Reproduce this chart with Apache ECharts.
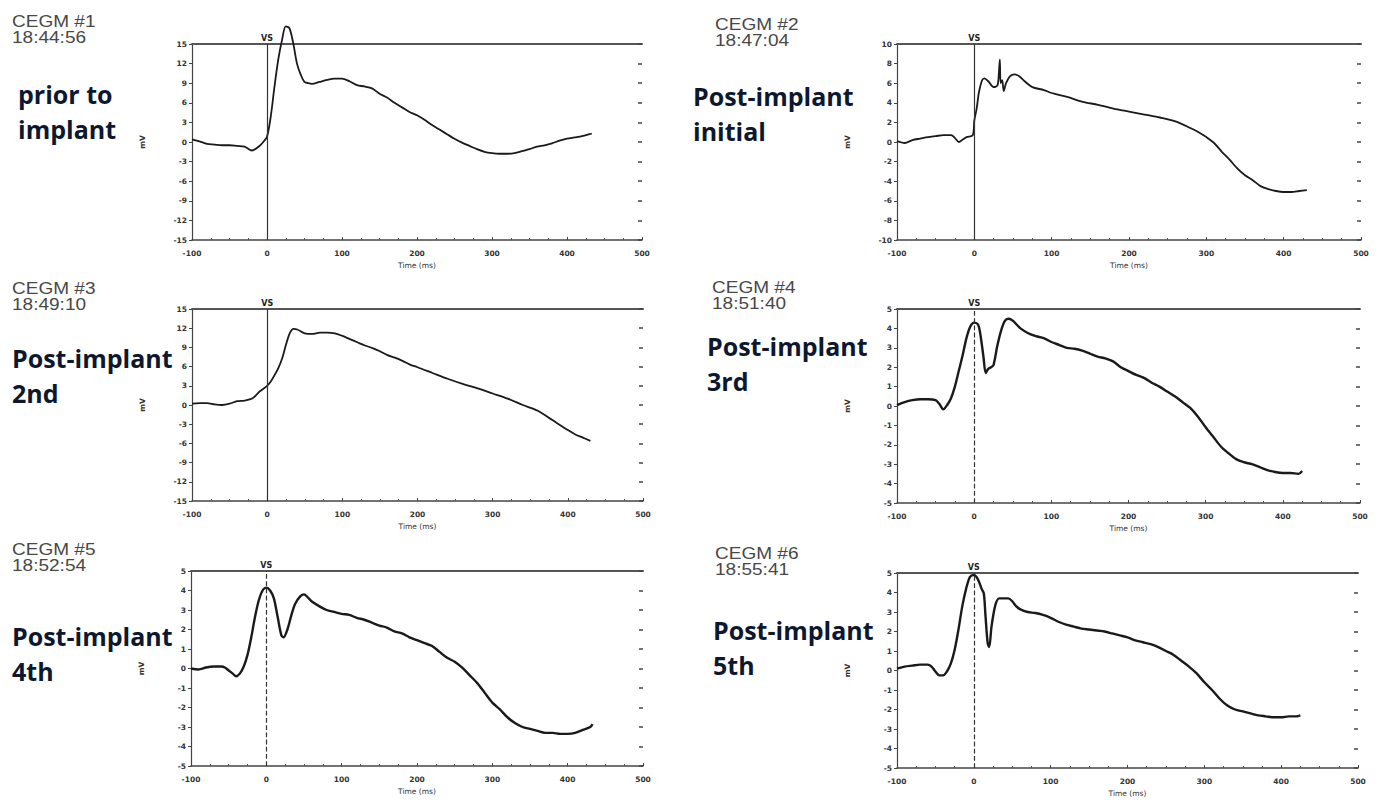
<!DOCTYPE html>
<html>
<head>
<meta charset="utf-8">
<script src="https://cdn.jsdelivr.net/npm/echarts@6/dist/echarts.min.js"></script>
<style>
  html, body { margin: 0; padding: 0; background: #fff; }
  #chart { width: 1379px; height: 808px; }
</style>
</head>
<body>
<div id="chart"></div>
<script>
// time (ms), mV
var cegm1 = [[-100,0.4],[-90,0.1],[-80,-0.3],[-70,-0.4],[-60,-0.5],[-50,-0.5],[-40,-0.6],[-30,-0.7],[-20,-1.3],[-10,-0.6],[-5,0],[0,0.8],[5,3.9],[10,8.5],[15,12.6],[20,15.6],[25,17.7],[30,17.4],[35,15.1],[40,12.0],[45,10.3],[50,9.2],[55,9.0],[60,8.9],[70,9.2],[80,9.5],[90,9.7],[100,9.7],[110,9.3],[120,8.7],[130,8.5],[140,8.2],[150,7.4],[160,6.8],[170,6.0],[180,5.3],[190,4.6],[200,4.1],[210,3.4],[220,2.6],[230,1.9],[240,1.2],[250,0.5],[260,-0.1],[270,-0.6],[280,-1.1],[290,-1.5],[300,-1.7],[310,-1.8],[320,-1.8],[330,-1.7],[340,-1.4],[350,-1.1],[360,-0.7],[370,-0.5],[380,-0.2],[390,0.2],[400,0.5],[410,0.7],[420,0.9],[430,1.2],[433,1.3]];
var cegm2 = [[-100,0.1],[-90,-0.1],[-80,0.2],[-70,0.35],[-60,0.5],[-50,0.6],[-40,0.7],[-30,0.7],[-25,0.4],[-20,0],[-15,0.25],[-10,0.5],[-2,0.7],[0,2.2],[3,3.4],[6,5.1],[10,6.3],[13,6.5],[18,6.2],[25,5.6],[30,5.8],[32,7.4],[33,8.4],[34,6.0],[36,6.3],[38,5.2],[41,6.0],[46,6.7],[52,6.9],[58,6.7],[65,6.2],[75,5.6],[90,5.3],[100,5.0],[120,4.6],[140,4.1],[160,3.8],[180,3.4],[200,3.1],[220,2.8],[240,2.5],[260,2.1],[280,1.4],[290,1.0],[300,0.5],[310,-0.1],[320,-1.0],[330,-1.8],[340,-2.7],[350,-3.4],[360,-3.9],[370,-4.5],[380,-4.8],[390,-5.0],[400,-5.1],[410,-5.1],[420,-5.0],[430,-4.9]];
var cegm3 = [[-100,0.2],[-90,0.3],[-80,0.3],[-70,0.1],[-60,0],[-50,0.2],[-40,0.6],[-30,0.7],[-20,1.0],[-10,2.1],[0,3.0],[5,3.7],[10,4.7],[15,5.8],[20,7.3],[25,9.4],[30,11.2],[35,11.9],[40,11.8],[50,11.2],[60,11.1],[70,11.3],[80,11.3],[90,11.2],[100,10.8],[110,10.3],[120,9.8],[130,9.3],[140,8.9],[150,8.4],[160,7.8],[170,7.4],[180,6.9],[190,6.3],[200,5.9],[220,5.0],[240,4.1],[260,3.3],[280,2.6],[300,1.8],[320,1.0],[340,0],[360,-0.9],[380,-2.4],[400,-3.9],[410,-4.6],[420,-5.1],[430,-5.6]];
var cegm4 = [[-100,0.05],[-90,0.2],[-80,0.3],[-70,0.35],[-60,0.35],[-50,0.3],[-45,0.1],[-40,-0.17],[-35,0.05],[-30,0.4],[-25,1.0],[-20,1.8],[-15,2.6],[-10,3.5],[-5,4.1],[0,4.3],[5,4.2],[8,3.7],[12,2.55],[15,1.7],[18,1.9],[22,2.0],[25,2.1],[30,3.1],[35,3.9],[40,4.4],[45,4.5],[50,4.4],[55,4.2],[60,4.0],[70,3.75],[80,3.6],[90,3.5],[100,3.3],[110,3.15],[120,3.0],[130,2.95],[140,2.85],[150,2.7],[160,2.55],[170,2.45],[180,2.3],[190,2.0],[200,1.8],[210,1.6],[220,1.45],[230,1.2],[240,1.0],[250,0.75],[260,0.5],[270,0.2],[280,-0.1],[290,-0.55],[300,-1.1],[310,-1.6],[320,-2.1],[330,-2.45],[340,-2.75],[350,-2.9],[360,-3.0],[370,-3.15],[380,-3.3],[390,-3.4],[400,-3.45],[410,-3.45],[420,-3.5],[425,-3.35]];
var cegm5 = [[-100,0],[-90,-0.05],[-80,0.05],[-70,0.1],[-60,0.1],[-55,0.05],[-50,-0.1],[-45,-0.25],[-40,-0.4],[-35,-0.25],[-30,0.1],[-25,0.7],[-20,1.6],[-15,2.65],[-10,3.5],[-5,4.0],[0,4.15],[5,4.0],[10,3.6],[15,2.65],[20,1.7],[23,1.6],[28,2.0],[33,2.7],[38,3.3],[45,3.7],[50,3.8],[55,3.65],[60,3.45],[70,3.2],[80,3.0],[90,2.9],[100,2.8],[110,2.75],[120,2.6],[130,2.5],[140,2.35],[150,2.2],[160,2.1],[170,1.9],[180,1.8],[190,1.6],[200,1.45],[210,1.3],[220,1.15],[230,0.85],[240,0.55],[250,0.35],[260,0.05],[270,-0.35],[280,-0.75],[290,-1.25],[300,-1.75],[310,-2.1],[320,-2.5],[330,-2.8],[340,-3.0],[350,-3.1],[360,-3.2],[370,-3.3],[380,-3.3],[390,-3.35],[400,-3.35],[410,-3.3],[420,-3.15],[430,-3.0],[433,-2.85]];
var cegm6 = [[-100,0.1],[-90,0.2],[-80,0.25],[-70,0.3],[-60,0.3],[-55,0.2],[-50,-0.05],[-45,-0.25],[-40,-0.25],[-35,-0.05],[-30,0.35],[-25,1.05],[-20,2.1],[-15,3.3],[-10,4.2],[-5,4.8],[0,4.9],[5,4.7],[10,4.2],[13,3.95],[15,2.9],[18,1.4],[20,1.2],[23,2.25],[28,3.35],[33,3.7],[40,3.7],[45,3.7],[50,3.55],[55,3.3],[60,3.15],[70,3.0],[80,2.95],[90,2.85],[100,2.7],[110,2.5],[120,2.35],[130,2.25],[140,2.15],[150,2.1],[160,2.05],[170,2.0],[180,1.9],[190,1.8],[200,1.7],[210,1.55],[220,1.45],[230,1.35],[240,1.2],[250,1.0],[260,0.8],[270,0.5],[280,0.2],[290,-0.15],[300,-0.6],[310,-1.0],[320,-1.45],[330,-1.8],[340,-2.0],[350,-2.1],[360,-2.2],[370,-2.3],[380,-2.35],[390,-2.4],[400,-2.4],[410,-2.35],[420,-2.35],[425,-2.3]];

var traces = [cegm1, cegm2, cegm3, cegm4, cegm5, cegm6];
var cegmNames = ['CEGM #1\n18:44:56', 'CEGM #2\n18:47:04', 'CEGM #3\n18:49:10', 'CEGM #4\n18:51:40', 'CEGM #5\n18:52:54', 'CEGM #6\n18:55:41'];
var stageNames = ['prior to\nimplant', 'Post-implant\ninitial', 'Post-implant\n2nd', 'Post-implant\n3rd', 'Post-implant\n4th', 'Post-implant\n5th'];
var yMin = [-15, -10, -15, -5, -5, -5];
var yMax = [15, 10, 15, 5, 5, 5];
var yStep = [3, 2, 3, 1, 1, 1];
var xMin = -100, xMax = 500, xStep = 100;

// panel boxes
var boxes = [
  { left: 192, top: 44, width: 450, height: 196 },
  { left: 897, top: 44, width: 464, height: 196 },
  { left: 192, top: 309, width: 451, height: 192 },
  { left: 897, top: 309, width: 463, height: 194 },
  { left: 191, top: 571, width: 452, height: 195 },
  { left: 897, top: 573, width: 461, height: 195 }
];
var cegmPos = [[12, 12], [715, 15], [12, 279], [712, 278], [12, 540], [715, 544]];
var stagePos = [[18, 94], [693, 96], [12, 358], [707, 346], [12, 636], [713, 630]];

var tickFont = { fontSize: 7.5, color: '#333', fontWeight: 'bold', fontFamily: 'DejaVu Sans' };

var chart = echarts.init(document.getElementById('chart'), null, { renderer: 'svg' });

var grid = [], xAxis = [], yAxis = [], series = [], graphic = [];

for (var i = 0; i < 6; i++) {
  grid.push(boxes[i]);
  // bottom axis
  xAxis.push({
    gridIndex: i, type: 'value', min: xMin, max: xMax, interval: xStep,
    axisLine: { onZero: false, lineStyle: { color: '#444', width: 1.5 } },
    axisTick: { inside: true, length: 3, lineStyle: { color: '#444' } },
    minorTick: { show: true, splitNumber: 4, length: 2, lineStyle: { color: '#555' } },
    splitLine: { show: false },
    axisLabel: Object.assign({ margin: 9 }, tickFont),
    name: 'Time (ms)', nameLocation: 'middle', nameGap: 21,
    nameTextStyle: { fontSize: 7.5, color: '#333', fontFamily: 'DejaVu Sans' }
  });
  // top border
  xAxis.push({
    gridIndex: i, type: 'value', position: 'top', min: xMin, max: xMax,
    axisLine: { onZero: false, lineStyle: { color: '#555', width: 2 } },
    axisTick: { show: false }, axisLabel: { show: false }, splitLine: { show: false }
  });
  yAxis.push({
    gridIndex: i, type: 'value', min: yMin[i], max: yMax[i], interval: yStep[i],
    axisLine: { show: true, onZero: false, lineStyle: { color: '#444', width: 1.2 } },
    axisTick: { show: true, length: 3, lineStyle: { color: '#444' } },
    splitLine: { show: false },
    axisLabel: Object.assign({ margin: 5 }, tickFont),
    name: 'mV', nameLocation: 'middle', nameGap: 46, nameRotate: 90,
    nameTextStyle: { fontSize: 7.5, color: '#333', fontWeight: 'bold', fontFamily: 'DejaVu Sans' }
  });
  yAxis.push({
    gridIndex: i, type: 'value', position: 'right', min: yMin[i], max: yMax[i], interval: yStep[i],
    axisLine: { show: false, onZero: false },
    axisTick: { show: true, inside: true, length: 4, lineStyle: { color: '#444', width: 1.5 } },
    axisLabel: { show: false }, splitLine: { show: false }
  });
  series.push({
    type: 'line',
    xAxisIndex: 2 * i,
    yAxisIndex: 2 * i,
    data: traces[i],
    showSymbol: false,
    smooth: 0.3,
    clip: false,
    lineStyle: { color: '#1a1a1a', width: i < 3 ? 1.8 : 2.4 },
    markLine: {
      silent: true,
      symbol: 'none',
      data: [{ xAxis: 0 }],
      lineStyle: { color: '#333', width: 1.2, type: i < 3 ? 'solid' : 'dashed' },
      label: { formatter: 'VS', position: 'end', distance: 2, fontSize: 8, fontWeight: 'bold', color: '#222', fontFamily: 'DejaVu Sans' }
    }
  });
  graphic.push({
    type: 'text', x: cegmPos[i][0], y: cegmPos[i][1] + 1, scaleX: 1.12,
    style: { text: cegmNames[i], font: '17px "Liberation Sans", Arial, sans-serif', fill: '#484848', lineHeight: 16 }
  });
  var lines = stageNames[i].split('\n');
  for (var k = 0; k < lines.length; k++) {
    graphic.push({
      type: 'text', x: stagePos[i][0], y: stagePos[i][1] + k * 35,
      style: { text: lines[k], font: 'bold 25px "Open Sans", sans-serif', fill: '#0d1830', verticalAlign: 'middle' }
    });
  }
}

chart.setOption({
  animation: false,
  backgroundColor: '#fff',
  grid: grid,
  xAxis: xAxis,
  yAxis: yAxis,
  series: series,
  graphic: graphic
});
</script>
</body>
</html>
